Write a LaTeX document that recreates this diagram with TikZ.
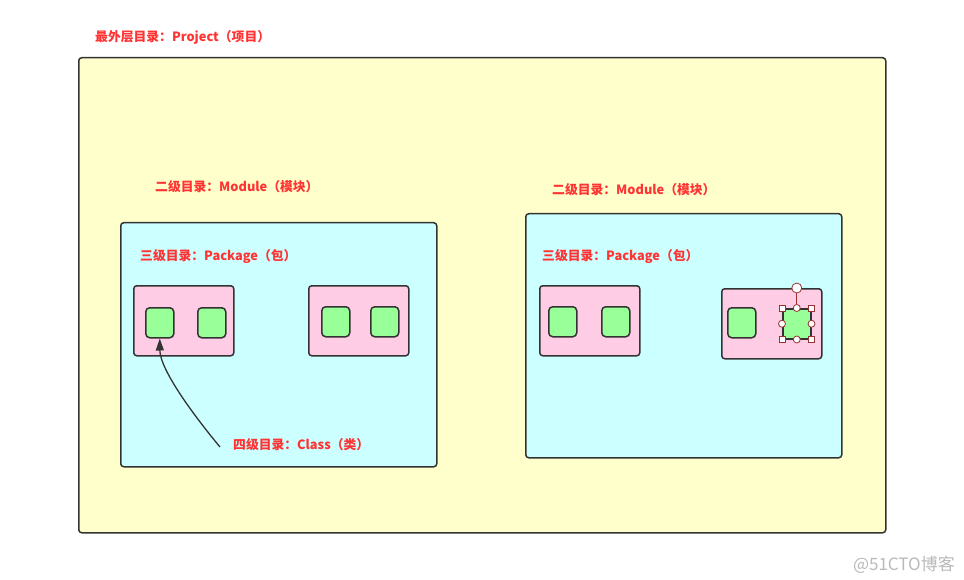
\documentclass[tikz,border=0pt]{standalone}
\usepackage{fontspec}
\newfontfamily\cjk{Noto Sans CJK SC}
\usetikzlibrary{arrows.meta}
\definecolor{projbg}{HTML}{FFFFCC}
\definecolor{modbg}{HTML}{CCFFFF}
\definecolor{pkgbg}{HTML}{FFCCE6}
\definecolor{clsbg}{HTML}{99FF99}
\definecolor{edge}{HTML}{333333}
\definecolor{lbl}{HTML}{FF3333}
\definecolor{handle}{HTML}{993333}

\begin{document}
\begin{tikzpicture}[
  x=1pt,y=-1pt,
  box/.style={draw=edge,line width=1.5pt,rounded corners=3pt,
    inner sep=0pt,anchor=north west},
  project/.style={box,fill=projbg,minimum width=807pt,minimum height=475pt},
  module/.style={box,fill=modbg,minimum width=316pt,minimum height=244pt},
  package/.style={box,fill=pkgbg,minimum width=100pt,minimum height=70pt},
  class/.style={box,fill=clsbg,rounded corners=4pt,
    minimum width=28pt,minimum height=30pt},
  label/.style={text=lbl,font={\cjk\bfseries\fontsize{12.8}{15}\selectfont},
    anchor=west,inner sep=0pt},
  corner/.style={draw=handle,fill=white,line width=.8pt,
    minimum size=6pt,inner sep=0pt},
  grip/.style={corner,circle,minimum size=7pt},
  ]
  % Background
  \fill[white] (0,0) rectangle (964,580);
  \useasboundingbox (0,0) rectangle (964,580);
  % Project
  \node[label] (projlbl) at (95,37) {最外层目录：Project（项目）};
  \node[project] (proj) at (78,57) {};
  % Modules
  \node[label] (modAlbl) at (155,187) {二级目录：Module（模块）};
  \node[module] (modA) at (120,222) {};
  \node[label] (modBlbl) at (552,190) {二级目录：Module（模块）};
  \node[module] (modB) at (525,213) {};
  % Packages
  \node[label] (pkgAlbl) at (140,256) {三级目录：Package（包）};
  \node[package] (pkgA1) at (133,285) {};
  \node[package] (pkgA2) at (308,285) {};
  \node[label] (pkgBlbl) at (542,256) {三级目录：Package（包）};
  \node[package] (pkgB1) at (539,285) {};
  \node[package] (pkgB2) at (721,288) {};
  % Classes
  \node[class] (clsA1a) at (145,307) {};
  \node[class] (clsA1b) at (197,307) {};
  \node[class] (clsA2a) at (321,306) {};
  \node[class] (clsA2b) at (370,306) {};
  \node[class] (clsB1a) at (548,306) {};
  \node[class] (clsB1b) at (601,306) {};
  \node[class] (clsB2a) at (727,307) {};
  \node[class,rounded corners=0pt] (clsB2b) at (782,308) {};
  % Selection handles
  \coordinate (rot) at ([yshift=20pt]clsB2b.north);
  \draw[handle,line width=.8pt] (clsB2b.north) -- (rot);
  \foreach \a in {north west,north east,south west,south east}
    \node[corner] at (clsB2b.\a) {};
  \foreach \a in {north,south,west,east}
    \node[grip] at (clsB2b.\a) {};
  \node[grip,minimum size=10pt] at (rot) {};
  % Class label and arrow
  \node[label] (clslbl) at (233,445) {四级目录：Class（类）};
  \coordinate (clsfoot) at (220,447);
  \draw[edge,line width=1.3pt,-{Triangle[length=12pt,width=8pt]}]
    (clsfoot) .. controls (195,417) and (160,370) .. (clsA1a.south);
  % Watermark
  \node[text=black!27,font={\cjk\fontsize{17}{19}\selectfont},
    anchor=east,inner sep=0pt] (mark) at (955,565) {@51CTO博客};
\end{tikzpicture}
\end{document}
